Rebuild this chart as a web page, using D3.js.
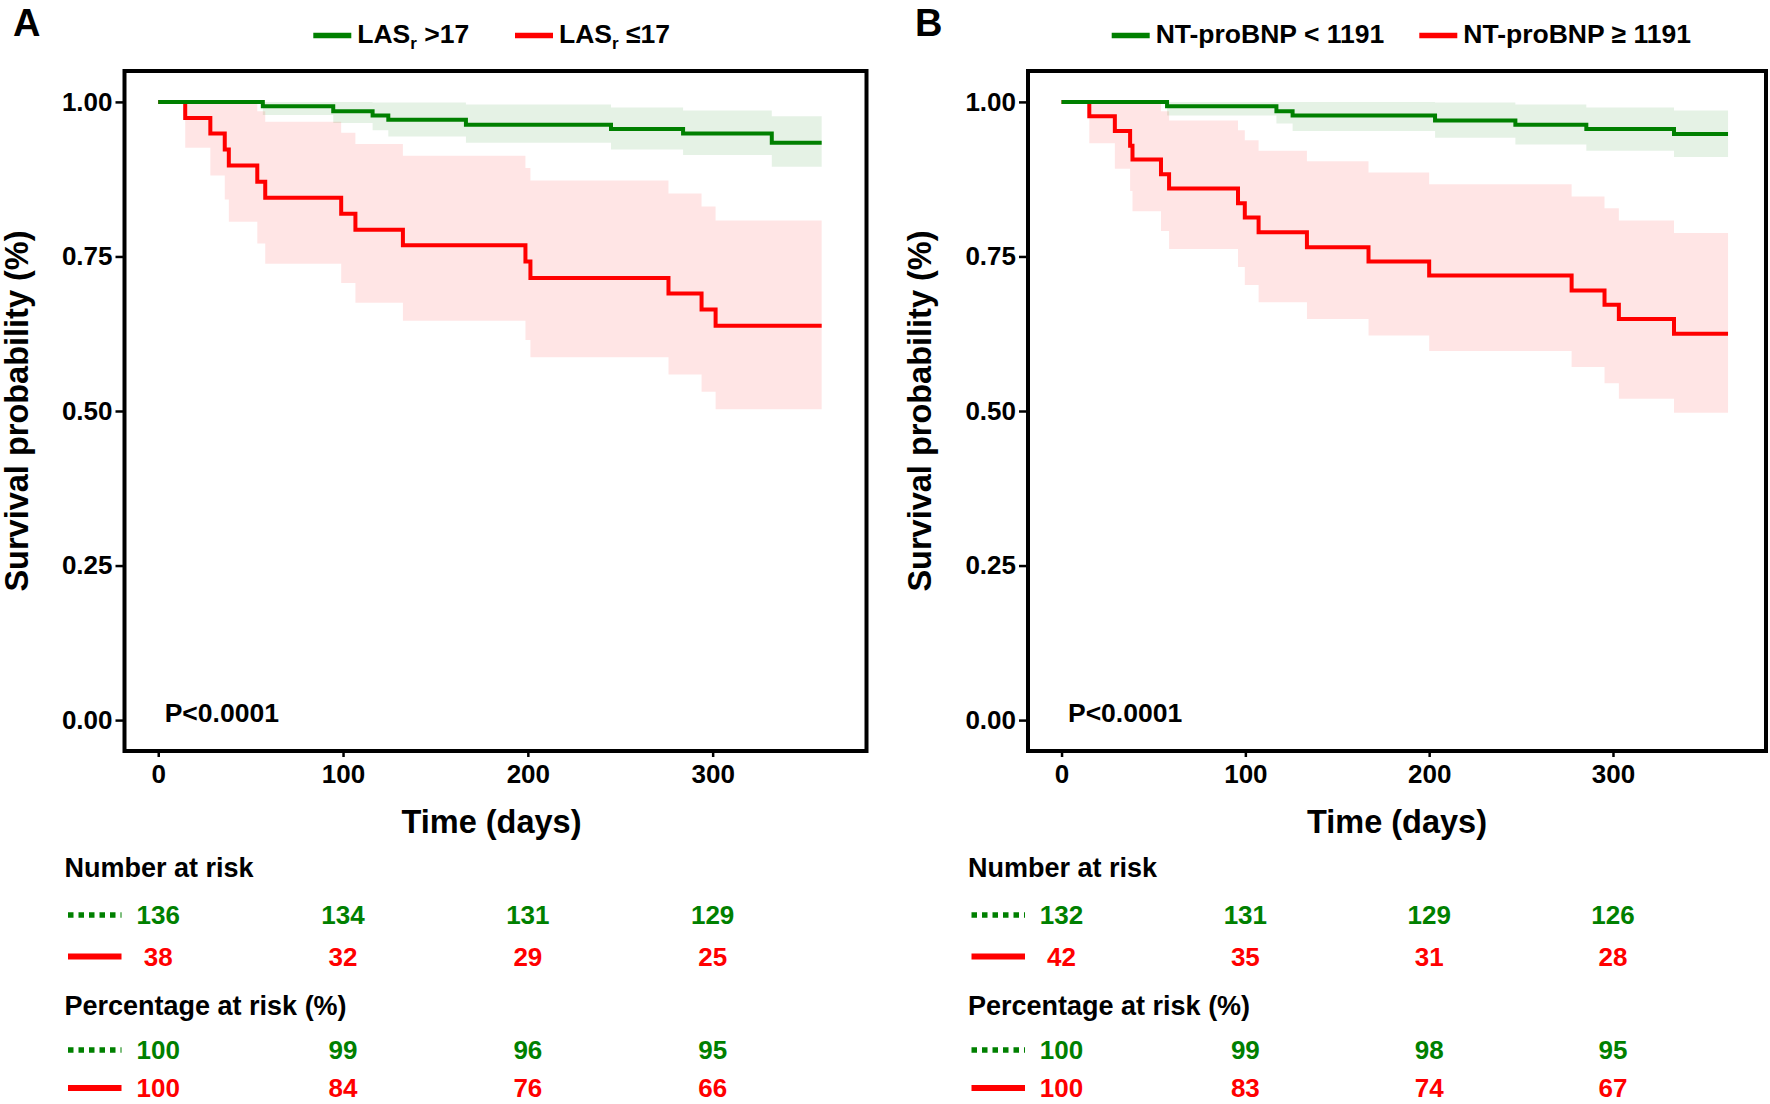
<!DOCTYPE html>
<html>
<head>
<meta charset="utf-8">
<script src="https://cdn.jsdelivr.net/npm/d3@7"></script>
<style>
  html, body { margin: 0; padding: 0; background: #ffffff; }
  svg { display: block; }
  text { font-family: "Liberation Sans", Arial, Helvetica, sans-serif; font-weight: bold; }
</style>
</head>
<body>
<svg id="chart" width="1770" height="1104"></svg>
<script>
// ---------------- data ----------------
const xTicks = [0, 100, 200, 300];
const yTicks = [0, 0.25, 0.5, 0.75, 1];
const yTickLabels = ["0.00", "0.25", "0.50", "0.75", "1.00"];
const riskTimes = [0, 100, 200, 300];
const pValueText = "P<0.0001";

// Panel A: LAS_r
const aGreenTime  = [0, 56.6, 94.7, 116, 124.5, 166.5, 245, 284, 332];
const aGreenSurv  = [1, 0.993, 0.985, 0.978, 0.971, 0.963, 0.956, 0.949, 0.934];
const aGreenLower = [1, 0.979, 0.966, 0.954, 0.944, 0.934, 0.923, 0.914, 0.895];
const aGreenUpper = [1, 1, 1, 0.999, 0.999, 0.996, 0.991, 0.986, 0.977];
const aGreenEnd = 359;

const aRedTime  = [0, 14.6, 28.2, 36, 38.2, 53.6, 57.9, 99, 106.7, 132.4, 198.7, 201.4, 276.1, 294, 301.6];
const aRedSurv  = [1, 0.974, 0.949, 0.923, 0.897, 0.871, 0.845, 0.819, 0.793, 0.768, 0.742, 0.715, 0.690, 0.664, 0.638];
const aRedLower = [1, 0.926, 0.881, 0.842, 0.806, 0.771, 0.738, 0.707, 0.675, 0.646, 0.615, 0.587, 0.559, 0.531, 0.503];
const aRedUpper = [1, 1, 1, 1, 1, 0.985, 0.968, 0.950, 0.932, 0.913, 0.893, 0.873, 0.852, 0.831, 0.808];
const aRedEnd = 359;

const aRiskGreen = [136, 134, 131, 129];
const aRiskRed   = [38, 32, 29, 25];
const aPctGreen  = [100, 99, 96, 95];
const aPctRed    = [100, 84, 76, 66];

// Panel B: NT-proBNP
const bGreenTime  = [0, 57.4, 116.9, 125.7, 203.2, 246.9, 285.5, 333.2];
const bGreenSurv  = [1, 0.993, 0.985, 0.978, 0.970, 0.963, 0.956, 0.948];
const bGreenLower = [1, 0.978, 0.965, 0.953, 0.942, 0.931, 0.921, 0.911];
const bGreenUpper = [1, 1, 1, 1, 0.999, 0.996, 0.991, 0.986];
const bGreenEnd = 362.6;

const bRedTime  = [0, 15.1, 29.0, 37.3, 38.6, 54.1, 58.5, 96.0, 99.7, 107.2, 133.5, 167.0, 200.0, 277.5, 295.4, 303.2, 333.2];
const bRedSurv  = [1, 0.977, 0.953, 0.929, 0.907, 0.883, 0.860, 0.836, 0.813, 0.789, 0.765, 0.742, 0.719, 0.695, 0.672, 0.649, 0.625];
const bRedLower = [1, 0.933, 0.892, 0.856, 0.823, 0.791, 0.762, 0.733, 0.704, 0.676, 0.649, 0.622, 0.597, 0.571, 0.545, 0.520, 0.497];
const bRedUpper = [1, 1, 1, 1, 1, 0.985, 0.970, 0.954, 0.938, 0.921, 0.904, 0.886, 0.867, 0.847, 0.828, 0.808, 0.788];
const bRedEnd = 362.6;

const bRiskGreen = [132, 131, 129, 126];
const bRiskRed   = [42, 35, 31, 28];
const bPctGreen  = [100, 99, 98, 95];
const bPctRed    = [100, 83, 74, 67];

// ---------------- styling / layout ----------------
const GREEN = "#008000";
const RED = "#FF0000";
const FONT_TICK = 26;
const FONT_TITLE = 32.5;
const FONT_TABLE = 27;
const FONT_NUM = 26;
const FONT_LEGEND = 26.5;

const svg = d3.select("#chart");

function buildSeries(time, surv, lower, upper, end) {
  const pts = time.map((t, i) => ({ t, s: surv[i], lo: lower[i], hi: upper[i] }));
  const last = pts[pts.length - 1];
  pts.push({ t: end, s: last.s, lo: last.lo, hi: last.hi });
  return pts;
}

function drawPanel(cfg) {
  const g = svg.append("g");
  const x = d3.scaleLinear().domain([-18.25, 383.25]).range([cfg.left, cfg.right]);
  const y = d3.scaleLinear().domain([-0.05, 1.05]).range([751, 71]);

  // panel label
  g.append("text").attr("x", cfg.labelX).attr("y", 36)
    .attr("font-size", 38).attr("fill", "#000").text(cfg.label);

  // legend
  cfg.legend.forEach(item => {
    g.append("line").attr("x1", item.x).attr("x2", item.x + 38)
      .attr("y1", 35.5).attr("y2", 35.5)
      .attr("stroke", item.color).attr("stroke-width", 5.5);
    const t = g.append("text").attr("x", item.x + 44).attr("y", 43)
      .attr("font-size", FONT_LEGEND).attr("fill", "#000");
    item.parts.forEach(p => {
      if (p.sub) {
        t.append("tspan").attr("font-size", 17).attr("dy", 6).text(p.text);
      } else {
        t.append("tspan").attr("dy", p.after ? -6 : 0).text(p.text);
      }
    });
  });

  const area = d3.area().curve(d3.curveStepAfter)
    .x(d => x(d.t)).y0(d => y(d.lo)).y1(d => y(d.hi));
  const line = d3.line().curve(d3.curveStepAfter)
    .x(d => x(d.t)).y(d => y(d.s));

  // ribbons
  g.append("path").datum(cfg.green).attr("d", area)
    .attr("fill", GREEN).attr("fill-opacity", 0.1);
  g.append("path").datum(cfg.red).attr("d", area)
    .attr("fill", RED).attr("fill-opacity", 0.1);
  // curves
  g.append("path").datum(cfg.red).attr("d", line)
    .attr("fill", "none").attr("stroke", RED).attr("stroke-width", 4);
  g.append("path").datum(cfg.green).attr("d", line)
    .attr("fill", "none").attr("stroke", GREEN).attr("stroke-width", 4);

  // y axis
  const yAxis = g.append("g").attr("transform", `translate(${cfg.left},0)`)
    .call(d3.axisLeft(y).tickValues(yTicks).tickSize(9).tickPadding(3)
      .tickFormat((d, i) => yTickLabels[i]));
  yAxis.select(".domain").remove();
  yAxis.selectAll("line").attr("stroke", "#000").attr("stroke-width", 2.5);
  yAxis.selectAll("text").attr("font-size", FONT_TICK).attr("fill", "#000")
    .attr("font-family", null);

  // x axis
  const xAxis = g.append("g").attr("transform", `translate(0,751)`)
    .call(d3.axisBottom(x).tickValues(xTicks).tickSize(6).tickPadding(8)
      .tickFormat(d3.format("d")));
  xAxis.select(".domain").remove();
  xAxis.selectAll("line").attr("stroke", "#000").attr("stroke-width", 2.5);
  xAxis.selectAll("text").attr("font-size", FONT_TICK).attr("fill", "#000")
    .attr("font-family", null);

  // panel border
  g.append("rect").attr("x", cfg.left).attr("y", 71)
    .attr("width", cfg.right - cfg.left).attr("height", 751 - 71)
    .attr("fill", "none").attr("stroke", "#000").attr("stroke-width", 4);

  // p-value
  g.append("text").attr("x", x(3.5)).attr("y", y(0) + 1.5)
    .attr("font-size", 26.5).attr("fill", "#000").text(pValueText);

  // axis titles
  g.append("text").attr("x", (cfg.left + cfg.right) / 2 + cfg.titleShift).attr("y", 833)
    .attr("text-anchor", "middle").attr("font-size", FONT_TITLE).attr("fill", "#000")
    .text("Time (days)");
  g.append("text")
    .attr("transform", `translate(${cfg.left - 97},411) rotate(-90)`)
    .attr("text-anchor", "middle").attr("font-size", FONT_TITLE).attr("fill", "#000")
    .text("Survival probability (%)");

  // risk tables
  const tx = cfg.left - 60;
  const rows = [
    { type: "head", y: 867, text: "Number at risk" },
    { type: "row", y: 915, color: GREEN, dotted: true, vals: cfg.riskGreen },
    { type: "row", y: 956.5, color: RED, dotted: false, vals: cfg.riskRed },
    { type: "head", y: 1005, text: "Percentage at risk (%)" },
    { type: "row", y: 1050, color: GREEN, dotted: true, vals: cfg.pctGreen },
    { type: "row", y: 1088, color: RED, dotted: false, vals: cfg.pctRed }
  ];
  rows.forEach(r => {
    if (r.type === "head") {
      g.append("text").attr("x", tx).attr("y", r.y + 0.36 * FONT_TABLE)
        .attr("font-size", FONT_TABLE).attr("fill", "#000").text(r.text);
    } else {
      g.append("line").attr("x1", tx + 3.5).attr("x2", tx + 57)
        .attr("y1", r.y).attr("y2", r.y)
        .attr("stroke", r.color).attr("stroke-width", r.dotted ? 5.5 : 6)
        .attr("stroke-dasharray", r.dotted ? "5.5,5" : null);
      g.selectAll(null).data(r.vals).enter().append("text")
        .attr("x", (d, i) => x(riskTimes[i]))
        .attr("y", r.y + 0.36 * FONT_NUM)
        .attr("text-anchor", "middle").attr("font-size", FONT_NUM)
        .attr("fill", r.color).text(d => d);
    }
  });
}

drawPanel({
  label: "A", labelX: 13, left: 124.5, right: 866.5, titleShift: -4,
  legend: [
    { x: 313.3, color: GREEN, parts: [{ text: "LAS" }, { text: "r", sub: true }, { text: " >17", after: true }] },
    { x: 515, color: RED, parts: [{ text: "LAS" }, { text: "r", sub: true }, { text: " \u226417", after: true }] }
  ],
  green: buildSeries(aGreenTime, aGreenSurv, aGreenLower, aGreenUpper, aGreenEnd),
  red: buildSeries(aRedTime, aRedSurv, aRedLower, aRedUpper, aRedEnd),
  riskGreen: aRiskGreen, riskRed: aRiskRed, pctGreen: aPctGreen, pctRed: aPctRed
});

drawPanel({
  label: "B", labelX: 915, left: 1028, right: 1766, titleShift: 0,
  legend: [
    { x: 1111.7, color: GREEN, parts: [{ text: "NT-proBNP < 1191" }] },
    { x: 1419.3, color: RED, parts: [{ text: "NT-proBNP \u2265 1191" }] }
  ],
  green: buildSeries(bGreenTime, bGreenSurv, bGreenLower, bGreenUpper, bGreenEnd),
  red: buildSeries(bRedTime, bRedSurv, bRedLower, bRedUpper, bRedEnd),
  riskGreen: bRiskGreen, riskRed: bRiskRed, pctGreen: bPctGreen, pctRed: bPctRed
});
</script>
</body>
</html>
